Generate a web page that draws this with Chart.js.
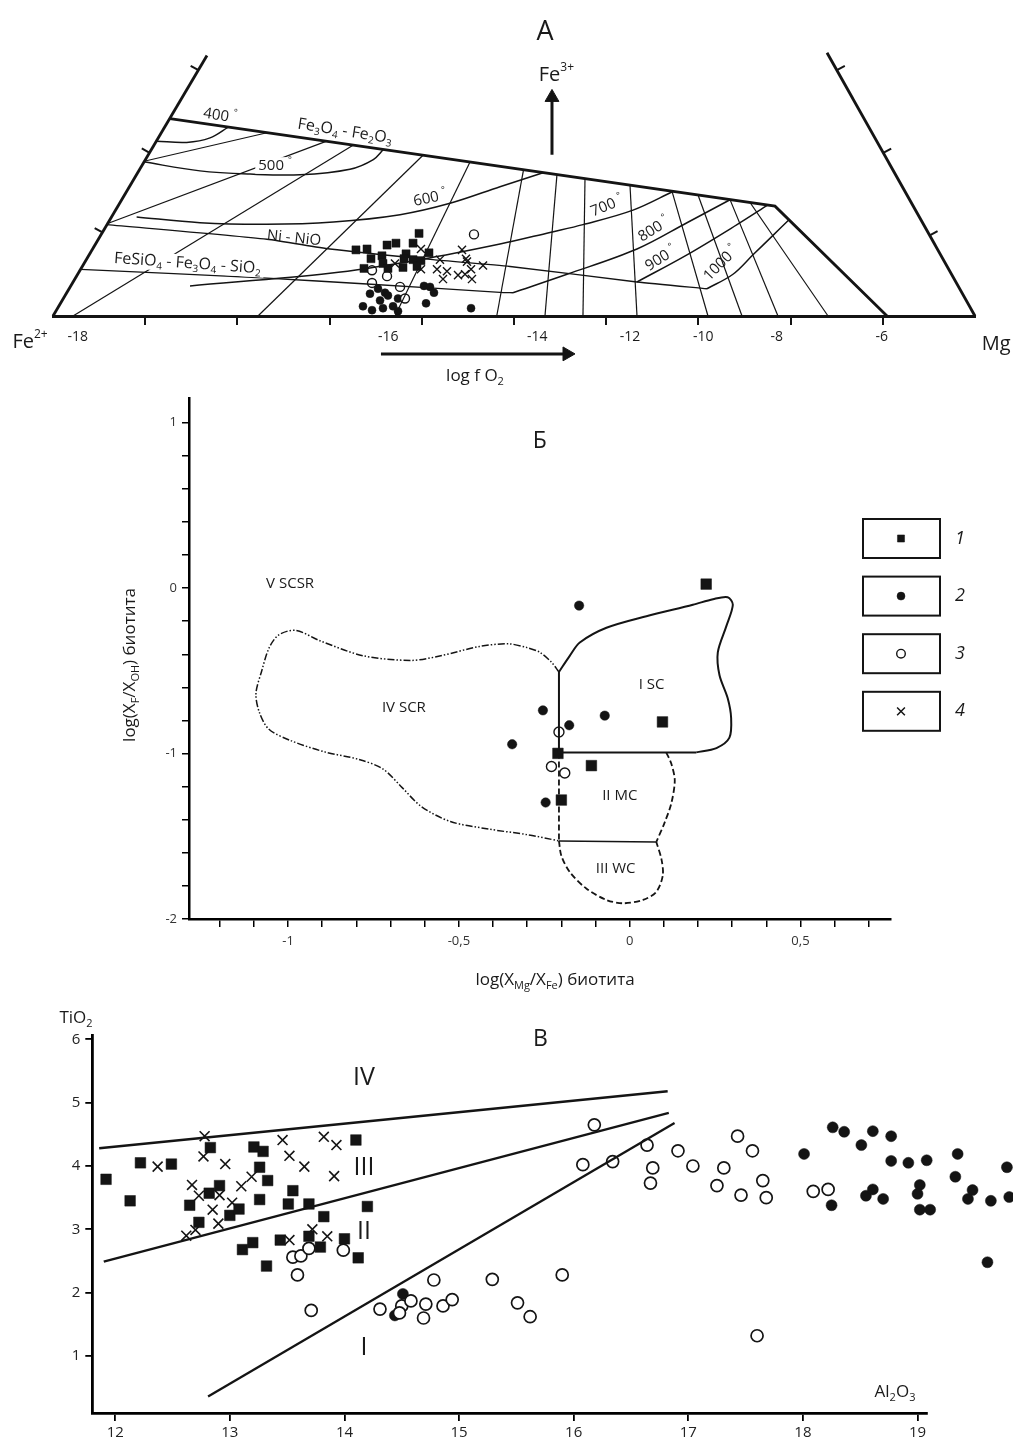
<!DOCTYPE html>
<html><head><meta charset="utf-8">
<script src="https://cdn.jsdelivr.net/npm/chart.js@4.4.1/dist/chart.umd.min.js"></script>
<style>
html,body{margin:0;padding:0;background:#fff;}
#wrap{position:relative;width:1013px;height:1446px;overflow:hidden;background:#fff;}
.pan{position:absolute;left:0;width:1013px;}
</style></head>
<body>
<div id="wrap">
 <div class="pan" style="top:0;height:390px"><canvas id="cA"></canvas></div>
 <div class="pan" style="top:385px;height:615px"><canvas id="cB"></canvas></div>
 <div class="pan" style="top:1000px;height:446px"><canvas id="cC"></canvas></div>
</div>
<script>
// ================= PANEL A (composition units: base Fe2+ = 0 ... Mg = 100) =================
const aBaseTicks = [10,20,30,40,50,60,70,80,90];
const aSquares = [[39.70,9.22],[36.23,7.92],[37.20,8.13],[39.05,8.13],[32.86,7.38],[34.06,7.48],[34.49,6.40],[35.68,6.72],[38.29,6.94],[40.78,7.05],[38.07,6.40],[39.05,6.29],[39.91,6.18],[33.73,5.31],[35.79,5.86],[36.33,5.31],[37.96,5.42],[39.48,5.53]];
const aDots = [[40.24,3.36],[40.89,3.25],[41.32,2.60],[35.25,3.04],[34.38,2.49],[36.01,2.60],[36.33,2.28],[37.42,1.95],[35.47,1.74],[33.62,1.08],[34.60,0.65],[35.79,0.87],[36.88,1.08],[37.42,0.54],[40.46,1.41],[45.34,0.87]];
const aRings = [[45.66,9.11],[34.60,5.10],[36.23,4.45],[34.60,3.69],[37.64,3.25],[38.18,1.95]];
const aCrosses = [[39.91,7.48],[44.36,7.38],[44.90,6.07],[45.34,5.21],[46.64,5.64],[41.97,6.29],[41.65,5.21],[42.73,4.99],[42.30,4.12],[43.93,4.56],[44.69,4.66],[45.44,4.12],[39.91,5.21],[37.09,5.86],[44.79,6.40]];
const aLeftSide = [[0,0],[16.70,29.07]];
const aRightSide = [[100,0],[83.95,29.39]];
const aMagHem = [[12.69,22.02],[78.31,12.26],[90.46,0]];
const aNNO = [[5.86,10.20],[23.21,8.57],[30.04,7.48],[41.21,6.29],[49.57,5.53],[63.34,3.80],[70.93,3.04]];
const aFMQ = [[2.99,5.21],[23.21,4.23],[34.06,3.58],[48.48,2.64],[49.89,2.60]];
const aT400 = [[11.25,19.52],[14.50,19.38],[17.03,19.88],[19.01,21.08]];
const aT500 = [[9.79,17.21],[15.94,16.20],[21.37,15.84],[26.79,15.76],[32.21,16.38],[34.74,17.46],[35.83,18.58]];
const aT600 = [[9.07,11.06],[15.94,10.41],[23.18,10.23],[30.41,10.49],[37.64,11.31],[43.06,12.58],[48.48,14.43],[53.15,16.0]];
const aT700 = [[14.86,3.36],[30.04,4.77],[39.80,6.29],[48.48,8.03],[53.90,9.33],[57.48,10.20],[62.91,11.82],[67.25,13.9]];
const aT800 = [[49.89,2.60],[55.75,4.66],[63.34,7.48],[68.76,10.41],[73.43,12.98]];
const aT900 = [[63.34,3.80],[68.76,6.83],[74.19,10.20],[77.55,12.4]];
const aT1000 = [[70.93,3.04],[73.75,4.66],[75.92,6.83],[78.09,9.0],[79.83,10.74]];
const aIsoFO2 = [
 [[9.76,17.25],[23.21,20.46]], [[5.86,10.30],[29.61,19.50]], [[2.17,0],[32.54,19.07]],
 [[22.23,0],[40.13,17.94]], [[37.09,0],[45.23,17.18]], [[48.13,0],[51.03,16.32]],
 [[53.36,0],[54.66,15.78]], [[57.48,0],[57.70,15.33]], [[63.34,0],[62.58,14.60]],
 [[71.04,0],[67.14,13.92]], [[74.73,0],[69.96,13.50]], [[78.63,0],[73.43,12.99]], [[84.06,0],[75.60,12.67]]
];
const aSideTicks = [
 [[5.37,9.33],[4.52,9.82]], [[10.48,18.22],[9.63,18.71]], [[15.78,27.44],[14.93,27.93]],
 [[95.09,9.00],[95.94,9.47]], [[90.05,18.22],[90.91,18.69]], [[85.02,27.44],[85.88,27.91]]
];
const aArrowFe3 = [[54.12,18.0],[54.12,24.4]];
const aArrowFO2 = [[35.57,-4.23],[55.75,-4.23]];
const aFO2Labels = ['-18','-16','-14','-12','-10','-8','-6'];
const aFO2At = [2.68,36.37,52.53,62.58,70.53,78.49,89.88];

// ================= PANEL Б =================
const bTicksX = [-1.2,-1.1,-1,-0.9,-0.8,-0.7,-0.6,-0.5,-0.4,-0.3,-0.2,-0.1,0,0.1,0.2,0.3,0.4,0.5,0.6,0.7];
const bTicksY = [-2,-1.8,-1.6,-1.4,-1.2,-1,-0.8,-0.6,-0.4,-0.2,0,0.2,0.4,0.6,0.8,1];
const bSquares = [[0.224,0.024],[0.096,-0.809],[-0.210,-0.999],[-0.112,-1.073],[-0.200,-1.281]];
const bDots = [[-0.148,-0.106],[-0.254,-0.739],[-0.073,-0.771],[-0.177,-0.829],[-0.344,-0.944],[-0.246,-1.296]];
const bRings = [[-0.207,-0.870],[-0.229,-1.078],[-0.190,-1.118]];
const bSCouter = [[-0.207,-0.507],[-0.175,-0.408],[-0.146,-0.329],[-0.068,-0.240],[0.049,-0.170],[0.185,-0.101],[0.244,-0.067],[0.287,-0.055],[0.302,-0.101],[0.283,-0.230],[0.258,-0.388],[0.263,-0.527],[0.287,-0.666],[0.297,-0.785],[0.292,-0.904],[0.254,-0.967],[0.195,-0.993]];
const bSCinner = [[-0.207,-0.507],[-0.207,-0.993],[0.195,-0.993]];
const bSCR = [[-0.207,-0.507],[-0.229,-0.448],[-0.263,-0.388],[-0.300,-0.360],[-0.355,-0.337],[-0.440,-0.353],[-0.553,-0.409],[-0.638,-0.437],[-0.780,-0.409],[-0.907,-0.318],[-0.978,-0.255],[-1.028,-0.284],[-1.056,-0.364],[-1.077,-0.500],[-1.094,-0.637],[-1.084,-0.751],[-1.056,-0.853],[-0.992,-0.922],[-0.893,-0.990],[-0.794,-1.035],[-0.723,-1.092],[-0.666,-1.206],[-0.610,-1.320],[-0.525,-1.411],[-0.411,-1.457],[-0.298,-1.491],[-0.207,-1.528]];
const bMCleft = [[-0.207,-0.993],[-0.207,-1.528]];
const bMCright = [[0.107,-0.993],[0.122,-1.062],[0.132,-1.162],[0.122,-1.300],[0.102,-1.419],[0.078,-1.534]];
const bMCbase = [[-0.207,-1.528],[0.078,-1.534]];
const bWC = [[-0.207,-1.528],[-0.200,-1.618],[-0.175,-1.717],[-0.127,-1.816],[-0.068,-1.885],[-0.020,-1.905],[0.039,-1.885],[0.078,-1.836],[0.097,-1.736],[0.093,-1.638],[0.078,-1.534]];
const bLegendLabels = ['1','2','3','4'];

// ================= PANEL В =================
const cTicksX = [12,13,14,15,16,17,18,19];
const cTicksY = [1,2,3,4,5,6];
const cSquares = [[11.92,3.79],[12.13,3.45],[12.22,4.05],[12.49,4.03],[12.83,4.29],[12.65,3.38],[12.82,3.57],[12.91,3.69],[12.73,3.11],[13.00,3.22],[13.08,3.32],[13.21,4.30],[13.29,4.23],[13.26,3.98],[13.33,3.77],[13.26,3.47],[13.55,3.61],[13.51,3.40],[13.69,3.40],[13.82,3.20],[14.10,4.41],[14.20,3.36],[13.11,2.68],[13.20,2.79],[13.32,2.42],[13.44,2.83],[13.69,2.89],[13.79,2.72],[14.00,2.85],[14.12,2.55]];
const cCrosses = [[12.37,3.99],[12.78,4.47],[12.77,4.15],[12.96,4.03],[12.67,3.70],[12.73,3.53],[12.85,3.31],[12.91,3.54],[13.02,3.42],[13.10,3.68],[13.19,3.83],[13.46,4.41],[13.52,4.16],[13.65,3.99],[13.82,4.46],[13.93,4.33],[13.91,3.84],[12.62,2.90],[12.70,2.99],[12.90,3.09],[13.52,2.83],[13.72,3.00],[13.85,2.89]];
const cRings = [[13.55,2.56],[13.62,2.58],[13.69,2.70],[13.59,2.28],[13.99,2.67],[13.71,1.72],[14.31,1.74],[14.50,1.79],[14.48,1.68],[14.58,1.87],[14.71,1.82],[14.69,1.60],[14.78,2.20],[14.86,1.79],[14.94,1.89],[15.29,2.21],[15.51,1.84],[15.62,1.62],[15.90,2.28],[16.18,4.65],[16.08,4.02],[16.34,4.07],[16.64,4.33],[16.69,3.97],[16.67,3.73],[16.91,4.24],[17.04,4.00],[17.43,4.47],[17.56,4.24],[17.31,3.97],[17.25,3.69],[17.46,3.54],[17.65,3.77],[17.68,3.50],[18.09,3.60],[18.22,3.63],[17.60,1.32]];
const cDots = [[14.51,1.98],[14.44,1.64],[18.01,4.19],[18.26,4.61],[18.36,4.54],[18.61,4.55],[18.77,4.47],[18.51,4.33],[18.77,4.08],[18.92,4.05],[19.08,4.09],[19.35,4.19],[19.33,3.83],[19.78,3.98],[19.80,3.51],[18.25,3.38],[18.55,3.53],[18.61,3.63],[18.70,3.48],[19.02,3.70],[19.00,3.56],[19.02,3.31],[19.11,3.31],[19.48,3.62],[19.44,3.48],[19.64,3.45],[19.61,2.48]];
const cLineIV = [[11.86,4.28],[16.82,5.18]];
const cLineIII = [[11.90,2.49],[16.83,4.84]];
const cLineII = [[12.81,0.36],[16.88,4.68]];

// ================= helpers =================
const FONT = "'Open Sans', 'DejaVu Sans', sans-serif";
const INK = '#141414';
Chart.defaults.font.family = FONT;
Chart.defaults.color = '#222';
const pts = a => a.map(p => ({x:p[0], y:p[1]}));
function lineDS(a, o){ o=o||{}; return {data:pts(a), showLine:true, borderColor:INK, borderWidth:o.w||1.3, borderDash:o.dash||[], tension:o.t||0, pointRadius:0, pointHoverRadius:0, fill:false, clip:false}; }
function markDS(a, style, r, fill, bw){ return {data:pts(a), showLine:false, pointStyle:style, pointRadius:r, pointHoverRadius:r, pointBackgroundColor:fill, pointBorderColor:INK, pointBorderWidth:bw, clip:false}; }
function arrowDS(a, rot){ return {data:pts(a), showLine:true, borderColor:INK, borderWidth:3, pointStyle:'triangle', pointRadius:[0,8], pointRotation:[0,rot], pointBackgroundColor:INK, pointBorderColor:INK, pointBorderWidth:1, clip:false}; }

function parseRich(s){
  const out=[]; let i=0, buf='';
  while(i<s.length){ const c=s[i];
    if(c==='_'||c==='^'){ if(buf){out.push({t:buf,m:0});buf='';}
      const m=c==='_'?1:2; i++; let t='';
      if(s[i]==='{'){ i++; while(i<s.length&&s[i]!=='}'){t+=s[i];i++;} i++; } else { t=s[i]; i++; }
      out.push({t,m}); continue; }
    buf+=c; i++; }
  if(buf) out.push({t:buf,m:0});
  return out;
}
function drawRich(ctx, s, x, y, o){
  const size=o.size||16, st=o.italic?'italic ':'';
  const segs=parseRich(s);
  const font=m=>st+(m?Math.round(size*0.62):size)+'px '+FONT;
  let w=0; segs.forEach(g=>{ctx.font=font(g.m); g.w=ctx.measureText(g.t).width; w+=g.w;});
  ctx.save(); ctx.translate(x,y); if(o.rot) ctx.rotate(o.rot*Math.PI/180);
  let sx = o.align==='left'?0:(o.align==='right'?-w:-w/2);
  if(o.bg){ ctx.fillStyle='#fff'; ctx.fillRect(sx-3,-size*0.55,w+6,size*1.1); }
  ctx.fillStyle=o.color||'#1a1a1a'; ctx.textBaseline='middle'; ctx.textAlign='left';
  segs.forEach(g=>{ ctx.font=font(g.m); const dy=g.m===1?size*0.32:(g.m===2?-size*0.36:0); ctx.fillText(g.t,sx,dy); sx+=g.w; });
  ctx.restore();
}
// let marks outside the plotting rectangle (arrowheads, points past the axis end) be drawn
const looseArea = { id:'looseArea',
  beforeDatasetsDraw(chart){ const a=chart.chartArea; chart.$ka={l:a.left,t:a.top,r:a.right,b:a.bottom}; a.left-=400; a.top-=400; a.right+=400; a.bottom+=400; },
  afterDatasetsDraw(chart){ const a=chart.chartArea, k=chart.$ka; if(k){a.left=k.l; a.top=k.t; a.right=k.r; a.bottom=k.b;} }
};
const richText = { id:'richText', afterDatasetsDraw(chart, args, opts){
  const ctx=chart.ctx, xs=chart.scales.x, ys=chart.scales.y;
  (opts.items||[]).forEach(it=>{
    const px=it.abs?it.x:xs.getPixelForValue(it.x), py=it.abs?it.y:ys.getPixelForValue(it.y);
    drawRich(ctx,it.t,px,py,it);
  });
}};
function baseOpts(pad){ return {responsive:true, maintainAspectRatio:false, animation:false, events:[], layout:{padding:pad},
  plugins:{legend:{display:false}, tooltip:{enabled:false}}}; }

// ================= chart A =================
const aText = [
 {t:'A', x:53.36, y:31.67, size:27},
 {t:'Fe^{3+}', x:54.6, y:26.9, size:20},
 {t:'Fe^{2+}', x:-2.49, y:-2.93, size:20},
 {t:'Mg', x:102.3, y:-3.15, size:20},
 {t:'log f O_2', x:45.77, y:-6.72, size:17},
 {t:'400 ^{°}', x:18.11, y:22.34, size:15, rot:8.5},
 {t:'Fe_3O_4 - Fe_2O_3', x:31.67, y:20.6, size:16, rot:9},
 {t:'500 ^{°}', x:24.08, y:16.81, size:15, bg:true},
 {t:'600 ^{°}', x:40.89, y:13.12, size:15, rot:-12},
 {t:'Ni - NiO', x:26.14, y:8.68, size:15, rot:6},
 {t:'FeSiO_4 - Fe_3O_4 - SiO_2', x:14.59, y:5.86, size:16, rot:4, bg:true},
 {t:'700 ^{°}', x:60.09, y:12.26, size:15, rot:-22},
 {t:'800 ^{°}', x:65.18, y:9.65, size:15, rot:-32},
 {t:'900 ^{°}', x:65.94, y:6.40, size:15, rot:-32},
 {t:'1000 ^{°}', x:72.45, y:5.86, size:15, rot:-45}
].concat(aFO2Labels.map((l,i)=>({t:l, x:aFO2At[i], y:-2.39, size:14})));

const aSets = [];
[aLeftSide, aRightSide].forEach(a=>aSets.push(lineDS(a,{w:2.8})));
aSets.push(lineDS(aMagHem,{w:2.8}));
aSideTicks.forEach(a=>aSets.push(lineDS(a,{w:2})));
aIsoFO2.forEach(a=>aSets.push(lineDS(a,{w:1.2})));
[aNNO,aFMQ].forEach(a=>aSets.push(lineDS(a,{w:1.4,t:0.2})));
[aT400,aT500,aT600,aT700,aT800,aT900,aT1000].forEach(a=>aSets.push(lineDS(a,{w:1.5,t:0.35})));
aSets.push(arrowDS(aArrowFe3,0));
aSets.push(arrowDS(aArrowFO2,90));
aSets.push(markDS(aSquares,'rect',5.7,INK,0.5));
aSets.push(markDS(aCrosses,'crossRot',5.7,INK,1.4));
aSets.push(markDS(aRings,'circle',4.5,'#fff',1.4));
aSets.push(markDS(aDots,'circle',4,INK,0.5));

const optA = baseOpts({left:53,right:38,top:0,bottom:0});
optA.plugins.richText = {items:aText};
optA.scales = {
  x:{type:'linear', min:0, max:100, afterFit:s=>{s.height=74;}, afterBuildTicks:s=>{s.ticks=aBaseTicks.map(v=>({value:v}));},
     border:{display:true,color:INK,width:3}, grid:{drawOnChartArea:false,drawTicks:true,tickLength:9,color:INK,lineWidth:2},
     ticks:{display:false, autoSkip:false}},
  y:{type:'linear', min:0, max:34.27, display:false}
};
new Chart(document.getElementById('cA'), {type:'scatter', data:{datasets:aSets}, options:optA, plugins:[looseArea,richText]});

// ================= chart Б =================
const bText = [
 {t:'Б', x:-0.263, y:0.889, size:23},
 {t:'V SCSR', x:-0.994, y:0.026, size:15},
 {t:'IV SCR', x:-0.661, y:-0.722, size:15},
 {t:'I SC', x:0.064, y:-0.586, size:15},
 {t:'II MC', x:-0.029, y:-1.258, size:15},
 {t:'III WC', x:-0.041, y:-1.698, size:15},
 {t:'log(X_F/X_{OH}) биотита', x:130, y:280, size:17, rot:-90, abs:true},
 {t:'log(X_{Mg}/X_{Fe}) биотита', x:555, y:595, size:17, abs:true}
];
const bLegendStyles = [{s:'rect',r:5,f:INK,bw:0.5},{s:'circle',r:4,f:INK,bw:0.5},{s:'circle',r:4.3,f:'#fff',bw:1.4},{s:'crossRot',r:5.5,f:INK,bw:1.5}];
const bLegend = { id:'bLegend', afterDraw(chart){
  const ctx=chart.ctx; ctx.save();
  bLegendLabels.forEach((lab,i)=>{
    const top=134+i*57.6, cx=901, cy=top+19.5;
    ctx.lineWidth=2; ctx.strokeStyle=INK; ctx.strokeRect(863,top,77,39);
    const st=bLegendStyles[i];
    ctx.fillStyle=st.f; ctx.strokeStyle=INK; ctx.lineWidth=st.bw;
    Chart.helpers.drawPoint(ctx,{pointStyle:st.s,radius:st.r,rotation:0,borderWidth:st.bw},cx,cy);
    drawRich(ctx,lab,960,cy,{size:18,italic:true});
  });
  ctx.restore();
}};
const bSets = [
  lineDS(bSCouter,{w:2,t:0.3}),
  lineDS(bSCinner,{w:2}),
  lineDS(bSCR,{w:1.5,t:0.3,dash:[7,2,1.5,2,1.5,2]}),
  lineDS(bMCleft,{w:1.8,dash:[6,3]}),
  lineDS(bMCright,{w:1.8,dash:[6,3],t:0.3}),
  lineDS(bMCbase,{w:1.5}),
  lineDS(bWC,{w:1.8,dash:[6,3],t:0.3}),
  markDS(bSquares,'rect',7.5,INK,0.5),
  markDS(bRings,'circle',5,'#fff',1.4),
  markDS(bDots,'circle',4.7,INK,0.5)
];
const fmtB = v => { const r=Math.round(v*10)/10; return String(r).replace('.',','); };
const optB = baseOpts({left:129,right:122,top:3,bottom:41});
optB.plugins.richText = {items:bText};
optB.scales = {
  x:{type:'linear', min:-1.29, max:0.765, afterFit:s=>{s.height=40;}, afterBuildTicks:s=>{s.ticks=bTicksX.map(v=>({value:v}));},
     border:{display:true,color:'#000',width:2.5}, grid:{drawOnChartArea:false,tickLength:8,color:'#000',lineWidth:1.5},
     ticks:{autoSkip:false,maxRotation:0,padding:6,color:'#333',font:{size:13},callback:v=>(Math.abs(v*2-Math.round(v*2))<1e-6?fmtB(v):'')}},
  y:{type:'linear', min:-2, max:1.15, afterFit:s=>{s.width=60;}, afterBuildTicks:s=>{s.ticks=bTicksY.map(v=>({value:v}));},
     border:{display:true,color:'#000',width:2.5}, grid:{drawOnChartArea:false,tickLength:7,color:'#000',lineWidth:1.5},
     ticks:{autoSkip:false,padding:5,color:'#333',font:{size:13},callback:v=>(Math.abs(v-Math.round(v))<1e-6?String(Math.round(v)):'')}}
};
new Chart(document.getElementById('cB'), {type:'scatter', data:{datasets:bSets}, options:optB, plugins:[looseArea,richText,bLegend]});

// ================= chart В =================
const cText = [
 {t:'В', x:15.71, y:5.99, size:23},
 {t:'IV', x:14.17, y:5.39, size:25},
 {t:'III', x:14.17, y:3.97, size:25},
 {t:'II', x:14.17, y:2.96, size:25},
 {t:'I', x:14.17, y:1.13, size:25},
 {t:'TiO_2', x:76, y:18, size:17, abs:true},
 {t:'Al_2O_3', x:895, y:392, size:17, abs:true}
];
const cSets = [
  lineDS(cLineIV,{w:2.3}), lineDS(cLineIII,{w:2.3}), lineDS(cLineII,{w:2.3}),
  markDS(cSquares,'rect',7.5,INK,0.5),
  markDS(cCrosses,'crossRot',7,INK,1.6),
  markDS(cRings,'circle',6,'#fff',1.7),
  markDS(cDots,'circle',5.5,INK,0.5)
];
const optC = baseOpts({left:52.3,right:86.3,top:35.5,bottom:0});
optC.plugins.richText = {items:cText};
optC.scales = {
  x:{type:'linear', min:11.80, max:19.08, afterFit:s=>{s.height=33;}, afterBuildTicks:s=>{s.ticks=cTicksX.map(v=>({value:v}));},
     border:{display:true,color:'#000',width:2.8}, grid:{drawOnChartArea:false,tickLength:8,color:'#000',lineWidth:1.8},
     ticks:{autoSkip:false,maxRotation:0,padding:3,color:'#222',font:{size:15}}},
  y:{type:'linear', min:0.1, max:6.06, afterFit:s=>{s.width=40;}, afterBuildTicks:s=>{s.ticks=cTicksY.map(v=>({value:v}));},
     border:{display:true,color:'#000',width:2.8}, grid:{drawOnChartArea:false,tickLength:7,color:'#000',lineWidth:1.8},
     ticks:{autoSkip:false,padding:5,color:'#222',font:{size:15}}}
};
new Chart(document.getElementById('cC'), {type:'scatter', data:{datasets:cSets}, options:optC, plugins:[looseArea,richText]});
</script>
</body></html>
